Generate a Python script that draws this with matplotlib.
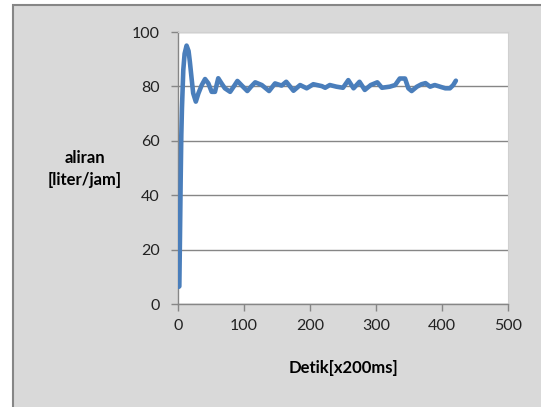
import matplotlib.pyplot as plt
from matplotlib.patches import Rectangle

# data (flow vs time)
detik = [1, 2, 3, 4, 5, 6, 8, 10, 13, 16, 18, 21, 23, 27, 31, 36, 41, 46,
         51, 56, 61, 66, 71, 79, 86, 90, 98, 105, 111, 117, 127, 138, 147,
         157, 164, 175, 185, 195, 205, 218, 223, 230, 240, 250, 258, 266,
         275, 283, 292, 302, 309, 321, 329, 336, 344, 349, 354, 362, 369,
         375, 382, 389, 397, 405, 412, 417, 421]
aliran = [6.3, 6.5, 25, 45, 62, 72, 86, 92, 95, 93, 89, 82, 77.5, 74.4,
          77.5, 80.5, 82.7, 81.1, 78, 78, 83, 81.1, 79.3, 78, 80.5, 82, 80,
          78.3, 80, 81.5, 80.5, 78.3, 81.1, 80.3, 81.7, 78.4, 80.5, 79.3,
          80.8, 80.1, 79.5, 80.5, 79.9, 79.5, 82.3, 79.3, 81.7, 78.7, 80.5,
          81.5, 79.5, 79.9, 80.5, 82.9, 82.9, 79.3, 78.3, 79.9, 80.8, 81.2,
          79.9, 80.5, 79.9, 79.3, 79.3, 80.5, 82.1]

xticks = [0, 100, 200, 300, 400, 500]
yticks = [0, 20, 40, 60, 80, 100]

W, H = 541, 407
plt.rcParams['font.family'] = ['Lato', 'DejaVu Sans']
fig = plt.figure(figsize=(W / 100, H / 100), dpi=100, facecolor='white')

# gray chart area with border (Excel style), kept behind the axes
bg = Rectangle((13 / W, -0.1), 1.1, (H - 5) / H + 0.1,
               transform=fig.transFigure, facecolor='#D9D9D9',
               edgecolor='#868686', linewidth=1.5, zorder=-10)
fig.add_artist(bg)

ax = fig.add_axes([178 / W, 1 - 304 / H, (508 - 178) / W, (304 - 32) / H])
ax.set_facecolor('white')

ax.plot(detik, aliran, color='#4A7EBB', linewidth=3.3,
        solid_joinstyle='round', solid_capstyle='round', zorder=3)

ax.set_xlim(0, 500)
ax.set_ylim(0, 100)
ax.set_xticks(xticks)
ax.set_yticks(yticks)
ax.yaxis.grid(True, color='#868686', linewidth=1)
ax.set_axisbelow(True)

for s in ['top', 'right']:
    ax.spines[s].set_color('#D0D0D0')
    ax.spines[s].set_linewidth(0.8)
for s in ['left', 'bottom']:
    ax.spines[s].set_color('#868686')
    ax.spines[s].set_linewidth(1)

ax.tick_params(axis='both', direction='out', length=5, width=1,
               color='#868686', labelsize=11.5, labelcolor='#222222')
ax.tick_params(axis='y', pad=8)
ax.tick_params(axis='x', pad=6)

fig.text(85 / W, 1 - 169 / H, 'aliran\n[liter/jam]', ha='center', va='center',
         fontsize=12, fontweight='bold', linespacing=1.4)
fig.text(343 / W, 1 - 368 / H, 'Detik[x200ms]', ha='center', va='center',
         fontsize=12, fontweight='bold')

plt.savefig('out.png', dpi=100)
